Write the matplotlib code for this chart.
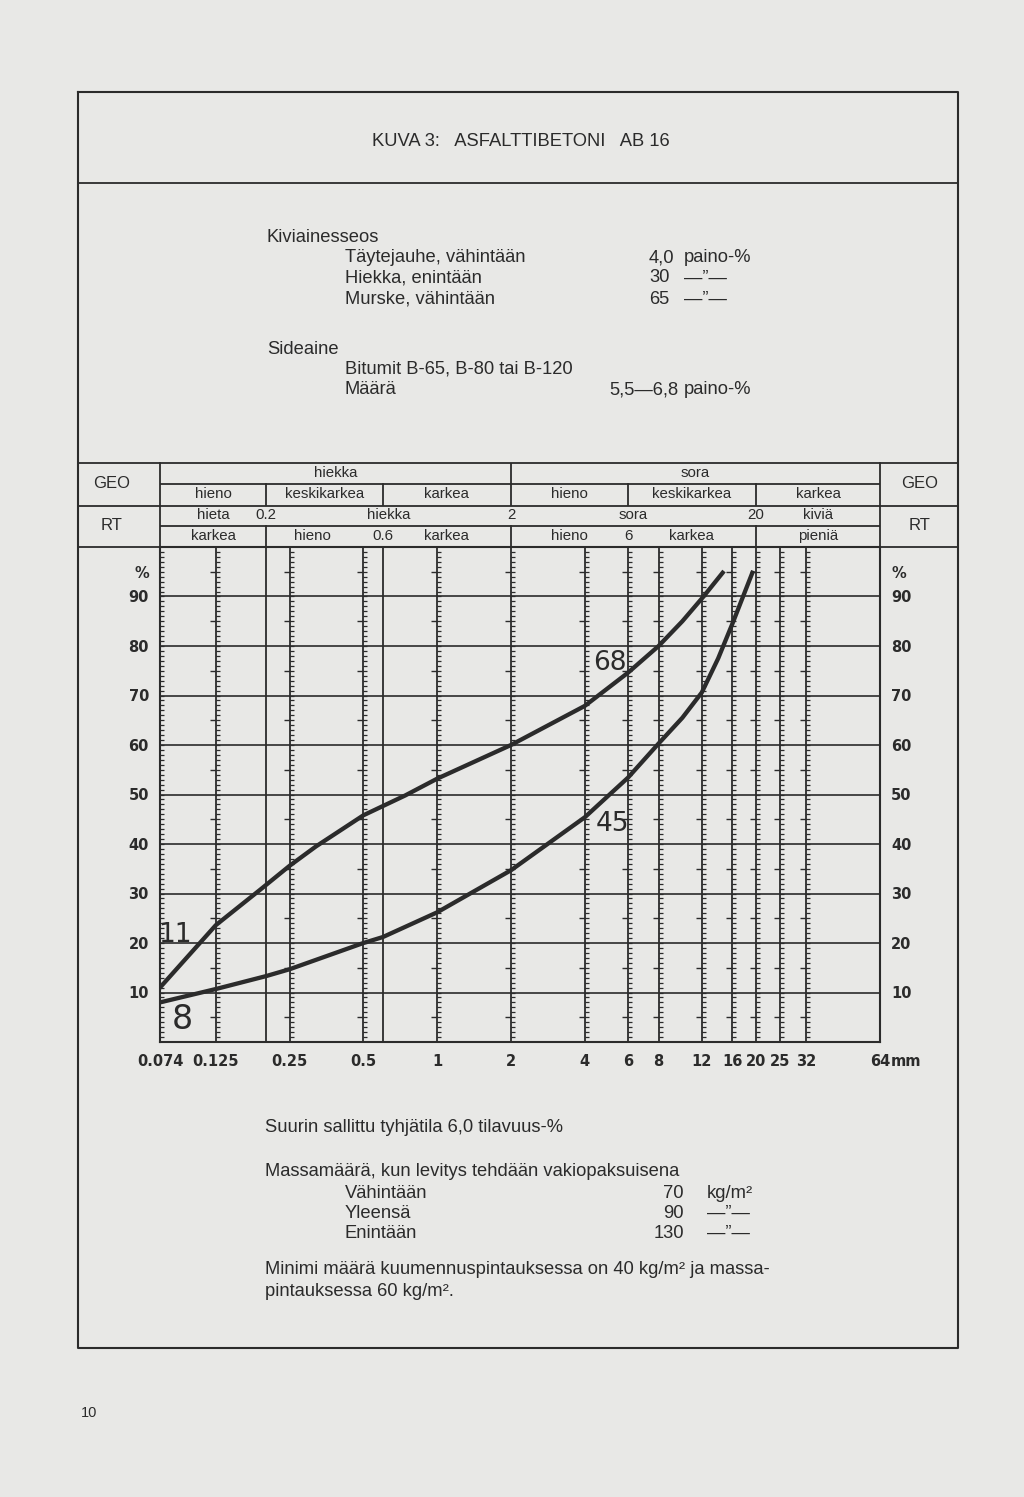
import numpy as np
import matplotlib.pyplot as plt
from matplotlib.markers import TICKLEFT, TICKRIGHT
from matplotlib.ticker import NullLocator

# ---------- data ----------
sieves = [0.074, 0.125, 0.25, 0.5, 1, 2, 4, 6, 8, 12, 16, 20, 25, 32]
x_ticks = sieves + [64]
x_labels = ["0.074", "0.125", "0.25", "0.5", "1", "2", "4", "6", "8",
            "12", "16", "20", "25", "32", "64"]
plain_lines = [0.2, 0.6]
pct_levels = [10, 20, 30, 40, 50, 60, 70, 80, 90]

# upper limit curve (11 % at filler, 68 % at 4 mm)
upper_size = [0.074, 0.125, 0.19, 0.25, 0.32, 0.5, 0.74, 1, 2, 4, 6, 8, 10, 12.2, 14.6]
upper_pass = [11, 23.6, 30.8, 35.6, 39.5, 45.8, 49.8, 53.2, 60, 67.9, 74.6, 80, 85, 90, 94.8]
# lower limit curve (8 % at filler, 45 % at 4 mm)
lower_size = [0.074, 0.125, 0.2, 0.25, 0.5, 0.6, 1, 2, 4, 6, 8, 10, 12, 14, 16, 19.3]
lower_pass = [8, 10.7, 13.3, 14.7, 20, 21.2, 26.2, 34.7, 45.4, 53.4, 60.3, 65.5, 70.6, 77.5,
              84.5, 94.8]

curve_labels = ["11", "8", "68", "45"]
curve_label_x = [0.0852, 0.091, 5.06, 5.2]
curve_label_y = [21.6, 4.6, 76.6, 44.0]

# classification table (GEO / RT)
geo_top = ["hiekka", "sora"]
geo_top_x = [0.385, 11.3]
geo_sub = ["hieno", "keskikarkea", "karkea", "hieno", "keskikarkea", "karkea"]
geo_sub_x = [0.1217, 0.346, 1.095, 3.46, 10.95, 35.8]
rt_top = ["hieta", "0.2", "hiekka", "2", "sora", "20", "kiviä"]
rt_top_x = [0.1217, 0.2, 0.632, 2, 6.32, 20, 35.8]
rt_sub = ["karkea", "hieno", "0.6", "karkea", "hieno", "6", "karkea", "pieniä"]
rt_sub_x = [0.1217, 0.31, 0.6, 1.095, 3.46, 6, 10.9, 35.8]

ink = "#2b2b2b"
paper = "#e8e8e6"
txt_font = ["Liberation Sans", "DejaVu Sans"]
num_font = ["DejaVu Sans"]

W, H = 1024, 1497
fig = plt.figure(figsize=(W / 100, H / 100), dpi=100, facecolor=paper)

# ---------- page (pixel coordinates) ----------
page = fig.add_axes([0, 0, 1, 1])
page.set_xlim(0, W)
page.set_ylim(H, 0)
page.axis("off")

page.plot([78, 958, 958, 78, 78], [92, 92, 1348, 1348, 92], color=ink, lw=1.5)
for yy in [183, 463, 506, 547]:
    page.plot([78, 958], [yy, yy], color=ink, lw=1.3)
for xx in [160, 880]:
    page.plot([xx, xx], [463, 547], color=ink, lw=1.3)

page.text(521, 142, "KUVA 3:   ASFALTTIBETONI   AB 16", ha="center", va="center",
          fontsize=13.2, family=txt_font, color=ink)

def t(x, y, s, ha="left", size=13.2):
    page.text(x, y, s, ha=ha, va="center", fontsize=size, family=txt_font, color=ink)

t(267, 237, "Kiviainesseos")
t(345, 258, "Täytejauhe, vähintään")
t(345, 278, "Hiekka, enintään")
t(345, 299, "Murske, vähintään")
t(649, 258, "4,0")
t(649, 278, "30")
t(649, 299, "65")
t(684, 258, "paino-%")
t(684, 278, "—\u201d—")
t(684, 299, "—\u201d—")
t(267, 349, "Sideaine")
t(345, 369, "Bitumit B-65, B-80 tai B-120")
t(345, 390, "Määrä")
t(678, 390, "5,5—6,8", ha="right")
t(684, 390, "paino-%")

t(265, 1127, "Suurin sallittu tyhjätila 6,0 tilavuus-%")
t(265, 1171, "Massamäärä, kun levitys tehdään vakiopaksuisena")
t(345, 1193, "Vähintään")
t(345, 1213, "Yleensä")
t(345, 1233, "Enintään")
t(684, 1193, "70", ha="right")
t(684, 1213, "90", ha="right")
t(684, 1233, "130", ha="right")
t(707, 1193, "kg/m²")
t(707, 1213, "—\u201d—")
t(707, 1233, "—\u201d—")
t(265, 1270, "Minimi määrä kuumennuspintauksessa on 40 kg/m² ja massa-")
t(265, 1291, "pintauksessa 60 kg/m².")
t(81, 1413, "10", size=10.5)

t(112, 484, "GEO", ha="center", size=12)
t(112, 526, "RT", ha="center", size=12)
t(920, 484, "GEO", ha="center", size=12)
t(920, 526, "RT", ha="center", size=12)

# ---------- grading chart ----------
ax = fig.add_axes([160 / W, 1 - 1042 / H, 720 / W, 495 / H])
ax.patch.set_alpha(0)
ax.set_xscale("log")
ax.set_xlim(0.074, 64)
ax.set_ylim(0, 100)
ax.xaxis.set_minor_locator(NullLocator())
for sp in ax.spines.values():
    sp.set_color(ink)
    sp.set_linewidth(1.5)

for p in pct_levels:
    ax.axhline(p, color=ink, lw=1.2, zorder=1)
for s in sieves[1:] + plain_lines:
    ax.axvline(s, color=ink, lw=1.3, zorder=1)

# ruler ticks on sieve lines
ones = np.arange(1, 100)
fives = np.arange(5, 100, 10)
for s in sieves:
    ax.plot([s] * len(ones), ones, ls="none", marker=TICKRIGHT, ms=3.2,
            mew=0.9, color=ink, zorder=2)
    ax.plot([s] * len(fives), fives, ls="none", marker=TICKLEFT, ms=4,
            mew=1.0, color=ink, zorder=2)

ax.plot(upper_size, upper_pass, color=ink, lw=3.1, zorder=4, solid_joinstyle="round")
ax.plot(lower_size, lower_pass, color=ink, lw=3.1, zorder=4, solid_joinstyle="round")

for lab, lx, ly in zip(curve_labels, curve_label_x, curve_label_y):
    ax.text(lx, ly, lab, ha="center", va="center", color=ink,
            fontsize=24 if lab == "8" else 19, family=num_font, zorder=5)

ax.set_xticks(x_ticks)
ax.set_xticklabels(x_labels)
ax.set_yticks(pct_levels + [95])
ax.set_yticklabels([str(p) for p in pct_levels] + ["%"])
ax.tick_params(axis="both", length=0, colors=ink, labelsize=10.5)
ax.tick_params(axis="x", pad=9)
ax.tick_params(axis="y", pad=8, labelleft=True, labelright=True)
for lbl in ax.get_xticklabels() + ax.get_yticklabels():
    lbl.set_fontweight("bold")
page.text(891, 1061, "mm", ha="left", va="center", fontsize=10.5,
          fontweight="bold", color=ink, family=num_font)

# ---------- classification table ----------
tab = fig.add_axes([160 / W, 1 - 547 / H, 720 / W, 84 / H], sharex=ax)
tab.patch.set_alpha(0)
tab.set_ylim(0, 4)
tab.axis("off")
tab.plot([0.074, 64], [3, 3], color=ink, lw=1.3)
tab.plot([0.074, 64], [1, 1], color=ink, lw=1.3)
tab.plot([2, 2], [3, 4], color=ink, lw=1.3)
for b in [0.2, 0.6, 2, 6, 20]:
    tab.plot([b, b], [2, 3], color=ink, lw=1.3)
for b in [0.2, 2, 20]:
    tab.plot([b, b], [0, 1], color=ink, lw=1.3)

def row(labels, xs, y):
    for lab, x in zip(labels, xs):
        tab.text(x, y, lab, ha="center", va="center", fontsize=10.8,
                 family=txt_font, color=ink)

row(geo_top, geo_top_x, 3.5)
row(geo_sub, geo_sub_x, 2.5)
row(rt_top, rt_top_x, 1.5)
row(rt_sub, rt_sub_x, 0.5)

fig.savefig("out.png", dpi=100, facecolor=paper)
